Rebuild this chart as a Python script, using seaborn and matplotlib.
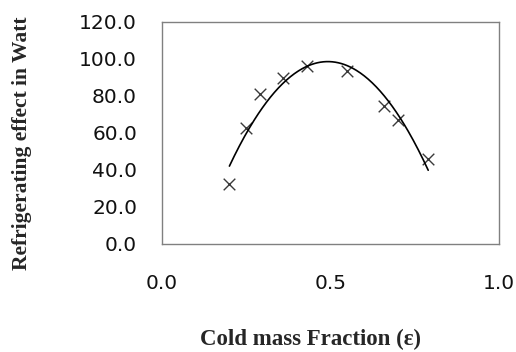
import numpy as np
import pandas as pd
import matplotlib
matplotlib.use('Agg')
import matplotlib.pyplot as plt
import seaborn as sns

cold_fraction = [0.20, 0.25, 0.29, 0.36, 0.43, 0.55, 0.66, 0.70, 0.79]
refrig_effect = [32.2, 62.6, 80.9, 89.7, 96.1, 93.3, 74.7, 66.8, 45.8]

x_ticks = [0.0, 0.5, 1.0]
y_ticks = [0.0, 20.0, 40.0, 60.0, 80.0, 100.0, 120.0]

df = pd.DataFrame({'eps': cold_fraction, 'q': refrig_effect})

# 2nd order trendline through the measured points
coef = np.polyfit(df['eps'], df['q'], 2)
xs = np.linspace(min(cold_fraction), max(cold_fraction), 200)
trend = pd.DataFrame({'eps': xs, 'q': np.polyval(coef, xs)})

sns.set_style('white')
fig = plt.figure(figsize=(5.16, 3.52), dpi=100)
ax = fig.add_axes([0.314, 0.307, 0.653, 0.631])

sns.lineplot(data=trend, x='eps', y='q', ax=ax, color='black', linewidth=1.2)
sns.scatterplot(data=df, x='eps', y='q', ax=ax, marker='x', s=70,
                color='#3a3a3a', linewidth=1.0)

ax.set_xlim(0, 1)
ax.set_ylim(0, 120)
ax.set_xticks(x_ticks)
ax.set_yticks(y_ticks)
ax.set_xticklabels([f'{v:.1f}' for v in x_ticks])
ax.set_yticklabels([f'{v:.1f}' for v in y_ticks])
ax.tick_params(axis='x', length=0, pad=22, labelsize=14.5, labelcolor='#111111')
ax.tick_params(axis='y', length=0, pad=18, labelsize=14.5, labelcolor='#111111')

for s in ax.spines.values():
    s.set_color('#808080')
    s.set_linewidth(1.0)

ax.set_xlabel('Cold mass Fraction (\u03b5)', fontfamily='Liberation Serif',
              fontweight='bold', fontsize=16.5)
ax.set_ylabel('Refrigerating effect in Watt', fontfamily='Liberation Serif',
              fontweight='bold', fontsize=15.5)
ax.xaxis.set_label_coords(0.442, -0.432)
ax.yaxis.set_label_coords(-0.415, 0.453)
ax.xaxis.label.set_va('center')
ax.yaxis.label.set_va('center')

plt.savefig('out.png', dpi=100)
plt.close()
